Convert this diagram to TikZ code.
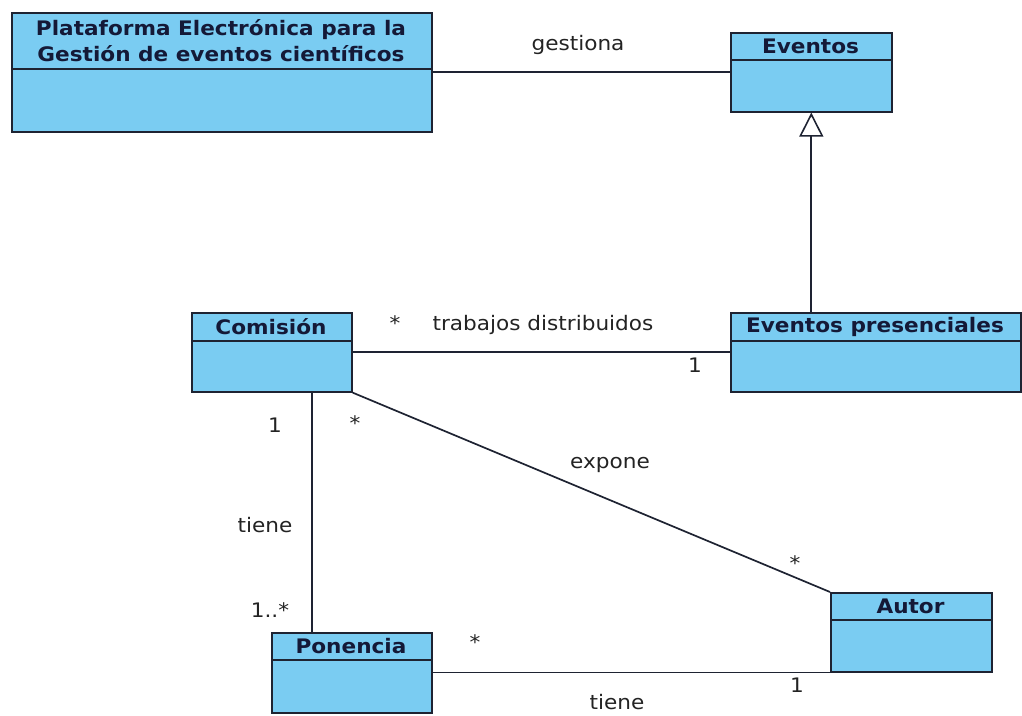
\documentclass[tikz,border=0pt]{standalone}
\usepackage{fontspec}
\setmainfont{DejaVu Sans}[FakeStretch=1.08]
\usetikzlibrary{arrows.meta,calc}
\definecolor{clsfill}{RGB}{122,204,242}
\definecolor{clsline}{RGB}{30,35,50}
\definecolor{clstext}{RGB}{20,25,55}
\definecolor{lbl}{RGB}{35,35,35}
\tikzset{
  cls/.style={draw=clsline, line width=1.6pt, fill=clsfill, rectangle, inner sep=0pt, anchor=north west},
  ttl/.style={font=\bfseries\fontsize{20}{26}\selectfont, text=clstext, inner sep=0pt, align=center},
  lab/.style={font=\fontsize{20}{26}\selectfont, text=lbl, inner sep=0pt},
  conn/.style={draw=clsline, line width=1.7pt},
}
\newcommand{\umlcls}[7]{% name, x1, y1, x2, y2, divider y, title
  \node[cls, minimum width={#4-#2}, minimum height={#5-#3}] (#1) at (#2,#3) {};
  \draw[conn] (#2,#6) -- (#4,#6);
  \node[ttl] (#1-t) at ({(#2+#4)/2},{(#3+#6)/2}) {#7};
}
\begin{document}
\begin{tikzpicture}[x=1pt,y=-1pt]
\useasboundingbox (0,0) rectangle (1022,715);
\umlcls{plat}{11}{12}{431}{131}{69}{Plataforma Electrónica para la\\Gestión de eventos científicos}
\umlcls{ev}{730}{32}{891}{111}{60}{Eventos}
\umlcls{evp}{730}{312}{1020}{391}{341}{Eventos presenciales}
\umlcls{com}{191}{312}{351}{391}{341}{Comisión}
\umlcls{pon}{271}{632}{431}{712}{660}{Ponencia}
\umlcls{aut}{830}{592}{991}{671}{620}{Autor}
% connectors
\draw[conn] (plat.east) -- (ev.west);
\draw[conn, -{Triangle[open, length=24pt, width=24pt, line width=1.6pt]}] (evp.north -| ev.south) -- (ev.south);
\draw[conn] (com.east) -- (evp.west);
\coordinate (cs) at ($(com.south west)!0.75!(com.south east)$);
\draw[conn] (cs) -- (cs |- pon.north);
\draw[conn] (com.south east) -- (aut.north west);
\draw[conn] (aut.south west -| pon.east) -- (aut.south west);
% labels
\node[lab] (l1) at (578,45) {gestiona};
\node[lab] (l2) at (543,325) {trabajos distribuidos};
\node[lab] (l3) at (395,323) {*};
\node[lab] (l4) at (695,365) {1};
\node[lab] (l5) at (275,425) {1};
\node[lab] (l6) at (265,525) {tiene};
\node[lab] (l7) at (270,610) {1..*};
\node[lab] (l8) at (355,423) {*};
\node[lab] (l9) at (610,465) {expone};
\node[lab] (l10) at (795,563) {*};
\node[lab] (l11) at (475,642) {*};
\node[lab] (l12) at (617,702) {tiene};
\node[lab] (l13) at (797,685) {1};
\end{tikzpicture}
\end{document}
